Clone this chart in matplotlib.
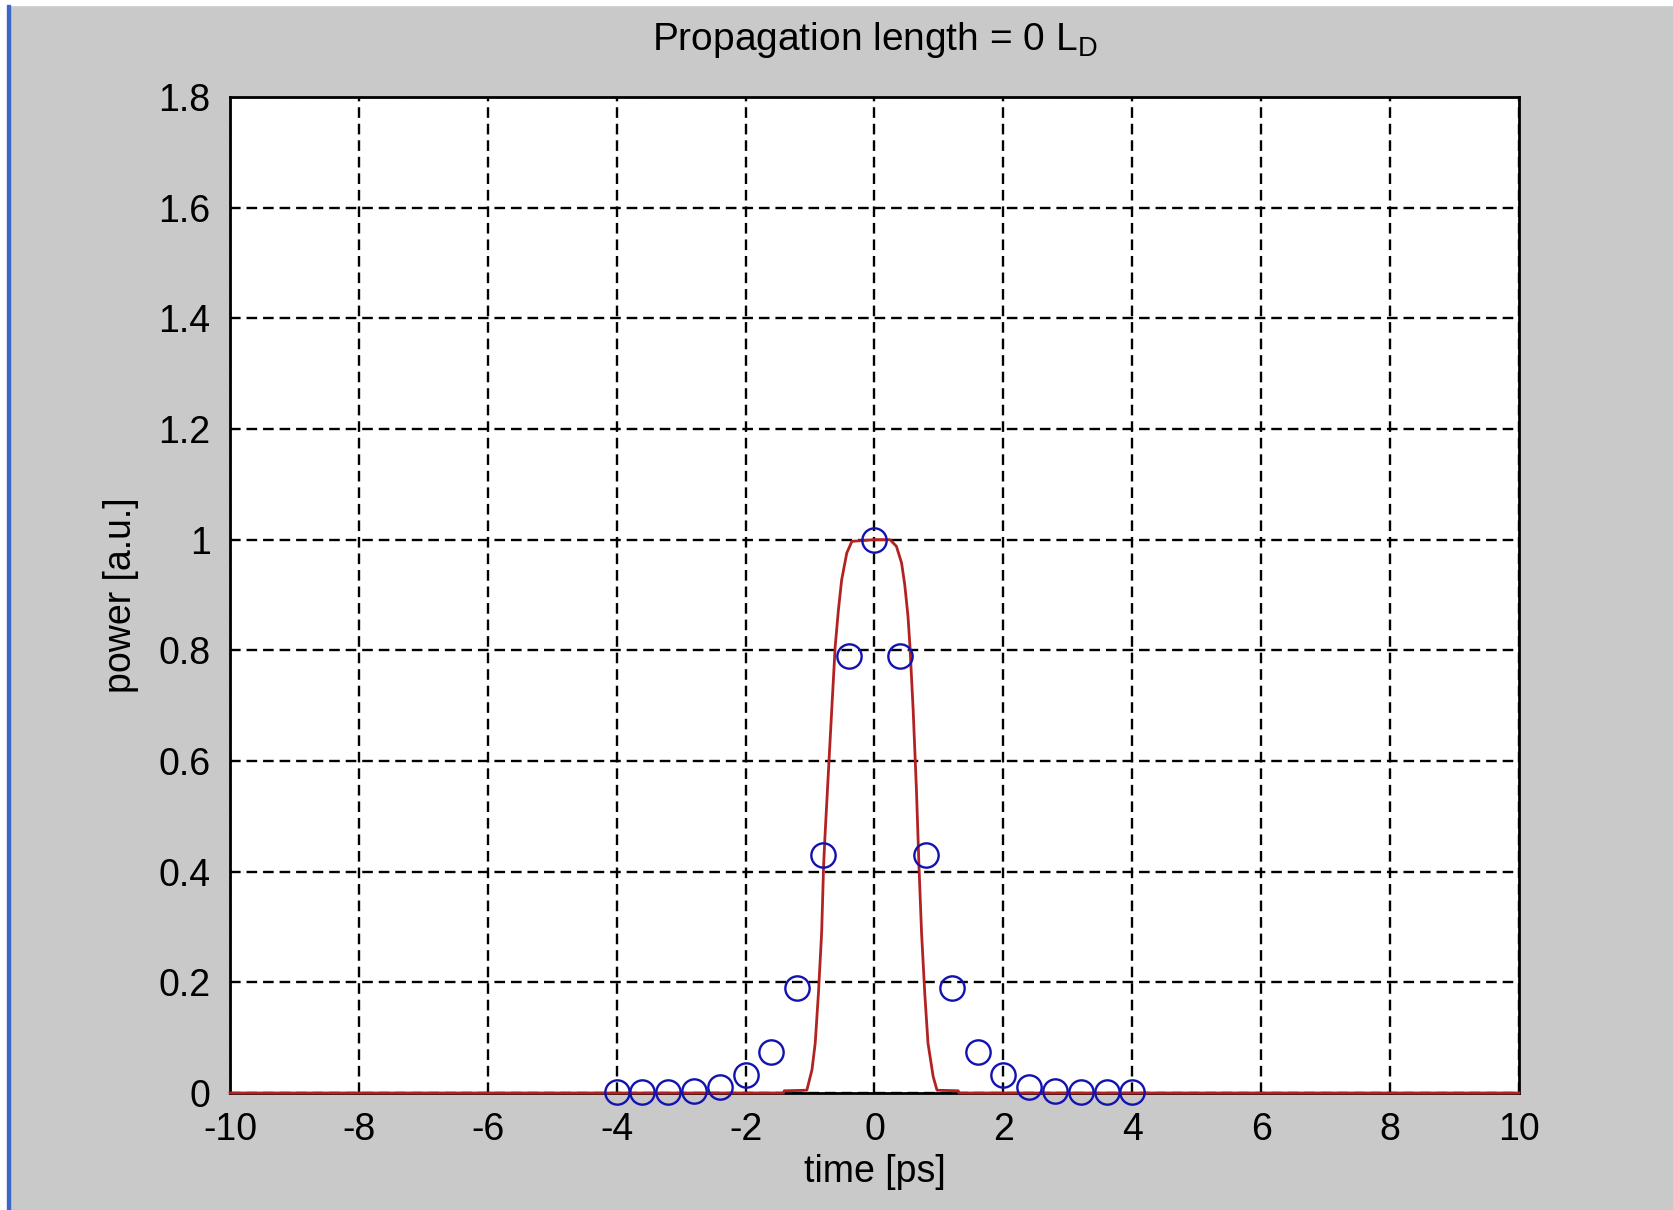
import numpy as np
import matplotlib.pyplot as plt
from matplotlib.patches import Rectangle

plt.rcParams['font.family'] = ['Liberation Sans', 'DejaVu Sans']
plt.rcParams['mathtext.default'] = 'regular'

# red curve: pulse power
t_red = [-10, -1.41, -1.40, -1.05, -0.97, -0.92, -0.87, -0.82, -0.79, -0.77,
         -0.72, -0.66, -0.61, -0.56, -0.51, -0.43, -0.35, 0, 0.24, 0.34, 0.42,
         0.47, 0.52, 0.55, 0.60, 0.65, 0.69, 0.73, 0.78, 0.83, 0.91, 0.97,
         1.30, 1.31, 10]
p_red = [0, 0, 0.004, 0.005, 0.042, 0.09, 0.18, 0.29, 0.41, 0.46,
         0.57, 0.70, 0.807, 0.873, 0.927, 0.976, 0.997, 1.0, 1.0, 0.988, 0.958,
         0.918, 0.861, 0.807, 0.692, 0.55, 0.41, 0.29, 0.18, 0.09, 0.03, 0.005,
         0.004, 0, 0]

# blue circles: sampled pulse
t_blue = [-4, -3.6, -3.2, -2.8, -2.4, -2.0, -1.6, -1.2, -0.8, -0.4, 0,
          0.4, 0.8, 1.2, 1.6, 2.0, 2.4, 2.8, 3.2, 3.6, 4]
p_blue = [0.001, 0.001, 0.001, 0.003, 0.011, 0.032, 0.074, 0.19, 0.43, 0.79, 1.0,
          0.79, 0.43, 0.19, 0.074, 0.032, 0.011, 0.003, 0.001, 0.001, 0.001]

xticks = np.arange(-10, 11, 2)
yticks = [0, 0.2, 0.4, 0.6, 0.8, 1.0, 1.2, 1.4, 1.6, 1.8]
ytick_labels = ['0', '0.2', '0.4', '0.6', '0.8', '1', '1.2', '1.4', '1.6', '1.8']

fig = plt.figure(figsize=(16.74, 12.10), dpi=100, facecolor='#c9c9c9')
W, H = 1674, 1210

# window frame bits
fig.patches.append(Rectangle((0, 1 - 5 / H), 1, 5 / H, transform=fig.transFigure,
                             color='white', zorder=0))
fig.patches.append(Rectangle((0, 0), 7 / W, 1, transform=fig.transFigure,
                             color='white', zorder=0))
fig.patches.append(Rectangle((7 / W, 0), 3 / W, 1 - 5 / H, transform=fig.transFigure,
                             color='#3a68c4', zorder=0))

ax = fig.add_axes([230 / W, 1 - 1093 / H, (1519 - 230) / W, (1093 - 97) / H])
ax.set_facecolor('white')

ax.plot(t_red, p_red, color='#b22222', lw=2.0, zorder=4, clip_on=False)
ax.plot(t_blue, p_blue, 'o', mfc='none', mec='#1212b0', ms=17.5, mew=1.7, zorder=5,
        clip_on=False)

ax.set_xlim(-10, 10)
ax.set_ylim(0, 1.8)
ax.set_xticks(xticks)
ax.set_xticklabels([str(v) for v in xticks])
ax.set_yticks(yticks)
ax.set_yticklabels(ytick_labels)

ax.grid(True, color='black', linestyle=(0, (4.5, 2.5)), linewidth=1.7)
ax.set_axisbelow(True)
for s in ax.spines.values():
    s.set_linewidth(2)
    s.set_color('black')
ax.tick_params(direction='in', length=0, labelsize=27, pad=14, colors='black')

ax.set_title('Propagation length = 0 L$_D$', fontsize=28, pad=34)
ax.set_xlabel('time [ps]', fontsize=27, labelpad=4)
ax.set_ylabel('power [a.u.]', fontsize=27, labelpad=14)

fig.savefig('out.png', dpi=100, facecolor=fig.get_facecolor())
